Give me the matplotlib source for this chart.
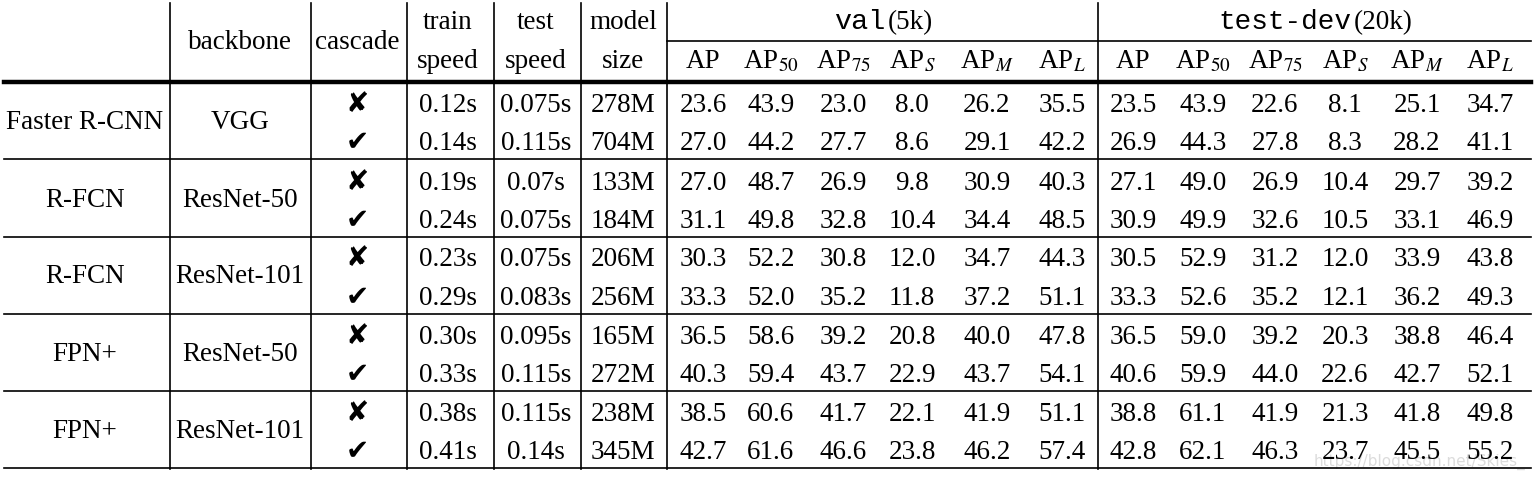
import matplotlib.pyplot as plt

plt.rcParams['mathtext.fontset'] = 'stix'

methods = ["Faster R-CNN", "R-FCN", "R-FCN", "FPN+", "FPN+"]
backbones = ["VGG", "ResNet-50", "ResNet-101", "ResNet-50", "ResNet-101"]
cascade = [False, True] * 5
train_speed = ["0.12s", "0.14s", "0.19s", "0.24s", "0.23s", "0.29s", "0.30s", "0.33s", "0.38s", "0.41s"]
test_speed = ["0.075s", "0.115s", "0.07s", "0.075s", "0.075s", "0.083s", "0.095s", "0.115s", "0.115s", "0.14s"]
model_size = ["278M", "704M", "133M", "184M", "206M", "256M", "165M", "272M", "238M", "345M"]
ap_labels = ["AP", r"AP$_{50}$", r"AP$_{75}$", r"AP$_{S}$", r"AP$_{M}$", r"AP$_{L}$"]
val_ap = [
    [23.6, 43.9, 23.0, 8.0, 26.2, 35.5],
    [27.0, 44.2, 27.7, 8.6, 29.1, 42.2],
    [27.0, 48.7, 26.9, 9.8, 30.9, 40.3],
    [31.1, 49.8, 32.8, 10.4, 34.4, 48.5],
    [30.3, 52.2, 30.8, 12.0, 34.7, 44.3],
    [33.3, 52.0, 35.2, 11.8, 37.2, 51.1],
    [36.5, 58.6, 39.2, 20.8, 40.0, 47.8],
    [40.3, 59.4, 43.7, 22.9, 43.7, 54.1],
    [38.5, 60.6, 41.7, 22.1, 41.9, 51.1],
    [42.7, 61.6, 46.6, 23.8, 46.2, 57.4],
]
testdev_ap = [
    [23.5, 43.9, 22.6, 8.1, 25.1, 34.7],
    [26.9, 44.3, 27.8, 8.3, 28.2, 41.1],
    [27.1, 49.0, 26.9, 10.4, 29.7, 39.2],
    [30.9, 49.9, 32.6, 10.5, 33.1, 46.9],
    [30.5, 52.9, 31.2, 12.0, 33.9, 43.8],
    [33.3, 52.6, 35.2, 12.1, 36.2, 49.3],
    [36.5, 59.0, 39.2, 20.3, 38.8, 46.4],
    [40.6, 59.9, 44.0, 22.6, 42.7, 52.1],
    [38.8, 61.1, 41.9, 21.3, 41.8, 49.8],
    [42.8, 62.1, 46.3, 23.7, 45.5, 55.2],
]

# layout in pixels (baselines)
row_y = [112, 150, 190, 228, 266, 305, 344, 382, 421, 459]
col_x = [85, 240, 357, 448, 536, 623]
val_x = [703, 771, 843, 912, 987, 1062]
test_x = [1133, 1203, 1275, 1345, 1417, 1490]
vlines = [170, 311, 407, 494, 581, 667, 1098]
group_lines = [160, 238, 315, 392]

fig = plt.figure(figsize=(15.35, 4.81), dpi=100)
ax = fig.add_axes([0, 0, 1, 1])
ax.set_xlim(0, 1535)
ax.set_ylim(481, 0)
ax.axis('off')

serif = 'Liberation Serif'
fs = 19.5
kw = dict(ha='center', va='baseline', fontsize=fs, family=serif, color='black')

# rules
for x in vlines:
    ax.plot([x, x], [4, 470], color='black', lw=1.2)
ax.plot([4, 1531], [83, 83], color='black', lw=3.2)
ax.plot([667, 1531], [42, 42], color='black', lw=1.2)
for y in group_lines + [469]:
    ax.plot([4, 1531], [y, y], color='black', lw=1.2)

# header
ax.text(col_x[1], 49, "backbone", **kw)
ax.text(col_x[2], 49, "cascade", **kw)
for x, top, bot in zip(col_x[3:], ["train", "test", "model"], ["speed", "speed", "size"]):
    ax.text(x, 29, top, **kw)
    ax.text(x, 68, bot, **kw)
ax.text(885, 29, "val", ha='right', va='baseline', fontsize=20.5, family='Liberation Mono')
ax.text(888, 29, "(5k)", ha='left', va='baseline', fontsize=fs, family=serif)
ax.text(1351, 29, "test-dev", ha='right', va='baseline', fontsize=20, family='Liberation Mono')
ax.text(1354, 29, "(20k)", ha='left', va='baseline', fontsize=fs, family=serif)
for xs in (val_x, test_x):
    for x, lab in zip(xs, ap_labels):
        ax.text(x, 68, lab, **kw)

# body
for g in range(5):
    ymid = (row_y[2 * g] + row_y[2 * g + 1]) / 2 - 2
    ax.text(col_x[0], ymid, methods[g], **kw)
    ax.text(col_x[1], ymid, backbones[g], **kw)

for i, y in enumerate(row_y):
    mark = "\u2714" if cascade[i] else "\u2718"
    ax.text(col_x[2], y - 8, mark, ha='center', va='center', fontsize=20,
            family='DejaVu Sans')
    ax.text(col_x[3], y, train_speed[i], **kw)
    ax.text(col_x[4], y, test_speed[i], **kw)
    ax.text(col_x[5], y, model_size[i], **kw)
    for x, v in zip(val_x, val_ap[i]):
        ax.text(x, y, f"{v:.1f}", **kw)
    for x, v in zip(test_x, testdev_ap[i]):
        ax.text(x, y, f"{v:.1f}", **kw)

ax.text(1525, 462, "https://blog.csdn.net/Skies_", ha='right', va='center',
        fontsize=11, family='DejaVu Sans', color='#dcdcdc', zorder=0)

fig.savefig("out.png", dpi=100)
